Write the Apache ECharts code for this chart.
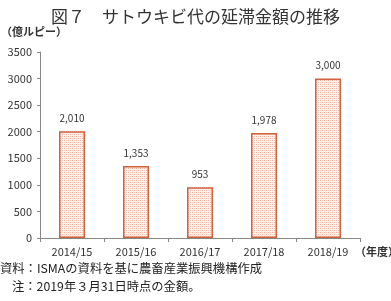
<!DOCTYPE html>
<html><head><meta charset="utf-8">
<script src="https://cdn.jsdelivr.net/npm/echarts@6/dist/echarts.min.js"></script>
<style>html,body{margin:0;padding:0;background:#fff;}#c{width:391px;height:301px;}</style>
</head><body><div id="c"></div>
<script>
var categories = ['2014/15','2015/16','2016/17','2017/18','2018/19'];
var values = [2010, 1353, 953, 1978, 3000];
var yTicks = [0,500,1000,1500,2000,2500,3000,3500];

var pc = document.createElement('canvas');
pc.width = 4; pc.height = 4;
var g = pc.getContext('2d');
g.fillStyle = '#fdf1ec'; g.fillRect(0,0,4,4);
g.fillStyle = '#eeb39c';
g.fillRect(0,0,1,1); g.fillRect(2,2,1,1);
g.fillStyle = '#f5cdbd';
g.fillRect(2,0,1,1); g.fillRect(0,2,1,1);

var chart = echarts.init(document.getElementById('c'));
var font = '"Noto Sans CJK JP", sans-serif';
chart.setOption({
  animation:false,
  title:{text:'図７　サトウキビ代の延滞金額の推移', left:'center', top:3,
    textStyle:{fontFamily:font, fontSize:17, fontWeight:'normal', color:'#333'}},
  graphic:[
    {type:'text', left:1, top:26, style:{text:'（億ルピー）', font:'bold 11px "Noto Sans CJK JP"', fill:'#333'}},
    {type:'text', left:355, top:246, style:{text:'（年度）', font:'bold 11px "Noto Sans CJK JP"', fill:'#333'}},
    {type:'text', left:0, top:262, style:{text:'資料：ISMAの資料を基に農畜産業振興機構作成', font:'12.3px "Noto Sans CJK JP"', fill:'#222'}},
    {type:'text', left:12, top:280, style:{text:'注：2019年３月31日時点の金額。', font:'12.3px "Noto Sans CJK JP"', fill:'#222'}}
  ],
  grid:{left:40, right:31, top:52, bottom:63},
  xAxis:{type:'category', data:categories,
    axisLine:{lineStyle:{color:'#888'}},
    axisTick:{show:true, length:4, lineStyle:{color:'#888'}},
    axisLabel:{fontFamily:font, fontSize:11, color:'#333', margin:8}},
  yAxis:{type:'value', min:0, max:3500, interval:500,
    axisLine:{show:true, lineStyle:{color:'#888'}},
    axisTick:{show:true, length:3, lineStyle:{color:'#888'}},
    splitLine:{show:false},
    axisLabel:{fontFamily:font, fontSize:11, color:'#333', margin:8,
      formatter:function(v){return String(v);}}},
  series:[{type:'bar', data:values, barWidth:26,
    itemStyle:{color:{image:pc, repeat:'repeat'}, borderColor:'#d0603e', borderWidth:1.5},
    label:{show:true, position:'top', distance:8, fontFamily:font, fontSize:10, color:'#333',
      formatter:function(p){return p.value.toLocaleString('en-US');}}}]
});
</script></body></html>
